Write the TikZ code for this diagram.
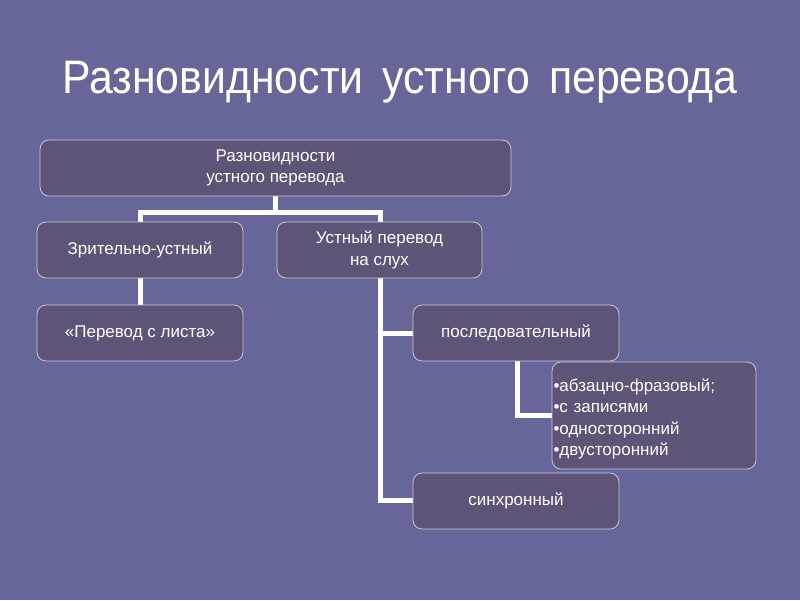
\documentclass[tikz,border=0pt]{standalone}
\usepackage{fontspec}
\setmainfont{Liberation Sans}
\newfontfamily\titlefont[FakeStretch=0.91]{Liberation Sans}
\definecolor{bg}{RGB}{102,102,153}
\definecolor{boxfill}{RGB}{94,84,120}
\definecolor{boxline}{RGB}{200,200,220}
\begin{document}
\begin{tikzpicture}[x=1pt,y=-1pt,
  box/.style={draw=boxline,line width=0.8pt,fill=boxfill,rounded corners=9pt,text=white,font=\fontsize{17}{21.5}\selectfont,align=center,inner sep=0pt},
  conn/.style={draw=white,line width=5pt}]
\useasboundingbox (0,0) rectangle (800,600);
\fill[bg] (0,0) rectangle (800,600);
\node[text=white,font=\titlefont\fontsize{47}{50}\selectfont,anchor=base,inner sep=0pt] (title) at (400,93) {Разновидности\hspace{19pt}устного\hspace{19pt}перевода};
% connectors
\coordinate (j1) at (275,212);
\coordinate (jl) at (140,212);
\coordinate (jr) at (380,212);
\draw[conn] (275,195) -- (j1);
\draw[conn] (140,224) -- (jl) -- (jr) -- (380,224);
\draw[conn] (140,276) -- (140,307);
\draw[conn] (380,276) -- (380,500) -- (415,500);
\draw[conn] (380,333) -- (415,333);
\draw[conn] (517,359) -- (517,415) -- (554,415);
% boxes
\node[box,minimum width=471pt,minimum height=56pt] (root) at (275.5,168) {Разновидности\\устного перевода};
\node[box,minimum width=206pt,minimum height=56pt] (vis) at (140,250) {Зрительно-устный};
\node[box,minimum width=205pt,minimum height=56pt] (oral) at (379.5,250) {Устный перевод\\на слух};
\node[box,minimum width=206pt,minimum height=56pt] (sheet) at (140,333) {«Перевод с листа»};
\node[box,minimum width=206pt,minimum height=56pt] (cons) at (516,333) {последовательный};
\node[box,minimum width=204pt,minimum height=107pt,align=left,text width=201pt] (list) at (654,415.5) {\rule{0pt}{20pt}•абзацно-фразовый;\\•с записями\\•односторонний\\•двусторонний};
\node[box,minimum width=206pt,minimum height=56pt] (sync) at (516,501) {синхронный};
\end{tikzpicture}
\end{document}
